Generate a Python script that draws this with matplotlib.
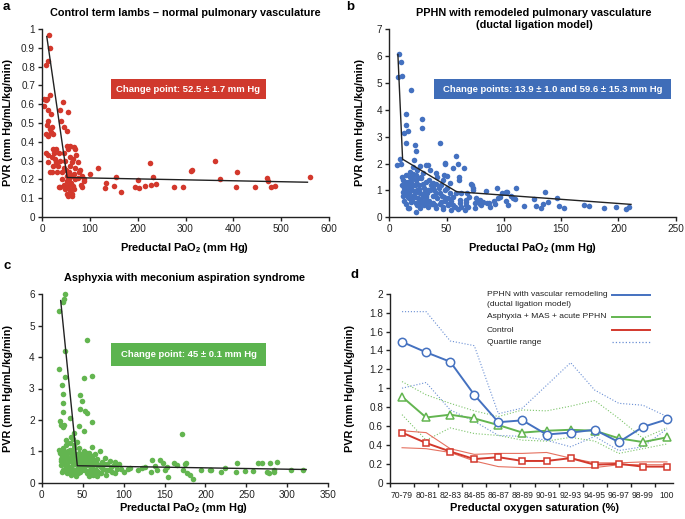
import matplotlib
matplotlib.use("Agg")
import matplotlib.pyplot as plt
from matplotlib.patches import Rectangle
import numpy as np

plt.rcParams['font.family'] = ['Liberation Sans', 'DejaVu Sans']
plt.rcParams['mathtext.fontset'] = 'custom'
plt.rcParams['mathtext.rm'] = 'Liberation Sans'
plt.rcParams['mathtext.bf'] = 'Liberation Sans:bold'

RED = '#d3382c'
BLUE = '#4471c0'
GREEN = '#63b550'

# ---------------- Panel a data ----------------
a_pts = [(15,0.97),(16,0.90),(12,0.83),(8,0.81),(5,0.63),(4,0.59),(8,0.62),(11,0.63),(17,0.65),(13,0.57),
         (19,0.55),(13,0.51),(10,0.49),(20,0.48),(8,0.44),(19,0.45),(13,0.43),(16,0.47),(22,0.44),(43,0.61),
         (37,0.57),(55,0.56),(40,0.51),(47,0.48),(52,0.46),
         (8,0.34),(22,0.36),(29,0.36),(52,0.38),(59,0.38),(66,0.37),(70,0.36),(55,0.36),(47,0.34),(36,0.34),
         (20,0.32),(27,0.31),(38,0.30),(48,0.30),(59,0.32),(62,0.29),(76,0.29),(13,0.29),(24,0.27),(34,0.27),
         (59,0.27),(69,0.26),(80,0.25),(20,0.24),(31,0.24),(41,0.24),(57,0.24),(66,0.23),(83,0.22),(52,0.22),
         (61,0.22),(76,0.21),(87,0.20),(100,0.23),(118,0.26),(41,0.20),(52,0.19),(61,0.18),(69,0.20),(45,0.17),
         (55,0.165),(64,0.165),(38,0.16),(48,0.15),(59,0.145),(52,0.125),(62,0.125),(55,0.11),(63,0.11),(84,0.16),
         (82,0.17),(16,0.24),(12,0.33),(25,0.34),(30,0.29),(45,0.26),(50,0.25),(65,0.31),(72,0.33),(57,0.20),
         (67,0.15),(35,0.16),(78,0.24),(88,0.19),
         (131,0.155),(133,0.18),(150,0.165),(154,0.215),(165,0.135),(195,0.16),(200,0.195),(203,0.155),(215,0.165),
         (226,0.285),(228,0.17),(232,0.215),(238,0.175),(277,0.16),(294,0.16),(312,0.245),(314,0.25),(362,0.30),
         (372,0.20),(405,0.16),(407,0.24),(445,0.16),(470,0.205),(473,0.19),(478,0.16),(488,0.165),(560,0.215)]
a_x = [p[0] for p in a_pts]
a_y = [p[1] for p in a_pts]
a_fit_x = [10, 52.5, 555]
a_fit_y = [0.96, 0.21, 0.185]

# ---------------- Panel b data ----------------
b_pts = [(8.7,6.07),(10.2,5.79),(7.3,5.2),(10.8,5.27),(18.6,4.73),(14.6,3.84),(14.6,3.43),(12.5,3.14),(16,3.19),
         (14.3,2.75),(28.2,3.66),(28.2,3.31),(22,2.68),(44,2.78),(23,2.45),(21.5,2.13),(7,1.93),(10.5,1.97),(9,2.15),
         (20.7,1.88),(31.7,1.96),(35.2,1.76),(48.3,2.03),(58,2.29),(60.2,1.97),(65,1.82),(56,1.82),(48.6,1.97),
         (61,1.51),(60.7,1.39),(48,1.57),(50.6,1.55),(40.7,1.66),(34,1.93),(27,1.91),(24,1.76),(41.6,1.49),
         (46.9,1.39),(71.6,1.23),(73,1.08),(23.6,1.57),(27.9,1.45),(29.4,1.64),(14.8,1.57),(17.8,1.70),(20,1.45),
         (16.3,1.33),(13.4,1.20),(38.1,1.26),(45.4,1.20),(52.7,1.26),(35.2,1.02),(41,0.89),(48.3,1.02),(55.6,0.77),
         (61.4,0.64),(66.6,0.58),(74.5,0.52),(78.9,0.64),(11.9,0.95),(14.8,0.83),(17.2,0.71),(19.2,0.58),(22.1,0.77),
         (25,0.95),(26.5,0.64),(29.4,0.52),(32.3,0.79),(33.7,0.40),(38.1,0.52),(41,0.33),(45.4,0.58),(46.9,0.40),
         (51.2,0.46),(54.1,0.27),(57,0.40),(60,0.30),(62.9,0.37),(65.8,0.27),(16.3,0.33),(23,0.21),
         (11,1.5),(12,1.4),(13,1.1),(12,0.8),(13,0.6),(15,1.0),(16,1.2),(17,0.9),(18,1.1),(19,1.3),(20,1.0),
         (21,0.8),(22,1.2),(23,1.4),(24,1.0),(25,0.7),(26,1.2),(27,0.9),(28,1.5),(29,0.8),(30,1.1),(31,0.6),
         (32,1.3),(33,0.9),(34,1.0),(35,0.6),(36,1.2),(37,0.5),(38,0.8),(39,1.0),(40,0.45),(42,0.7),(43,1.1),
         (44,0.5),(46,0.8),(47,0.3),(49,0.6),(50,1.1),(52,0.5),(53,0.9),(15,0.5),(17,0.35),(19,0.7),(21,1.6),
         (23,0.55),(25,1.45),(27,0.35),(29,1.25),(31,0.95),(33,0.55),(14,1.3),(16,0.75),(18,1.5),(20,0.6),
         (22,0.95),(24,0.45),(26,1.05),(28,0.65),(30,0.45),(32,0.75),(11,1.2),(13,0.9),(20,1.2),(24,1.25),
         (26,0.5),(35,1.4),(38,1.1),(41,1.25),(44,0.9),(48,0.75),(51,0.7),(54,0.6),(56,0.45),(58,0.9),(62,0.55),
         (63,0.9),(67,0.45),(68,0.9),(70,0.75),(75,0.35),(76,0.7),(80,0.45),(85,0.55),(88,0.4),(92,0.5),(95,0.7),
         (98,0.9),(103,0.95),(108,0.7),
         (72,1.20),(73,1.02),(84,0.99),(77.7,0.64),(93.7,1.10),(101.6,0.93),(106,0.79),(110,0.68),(111,1.08),
         (118,0.43),(126.6,0.68),(128,0.42),(132,0.35),(134.5,0.48),(136,0.93),(138.5,0.58),(146.7,0.70),
         (148.5,0.43),(152.5,0.36),(170,0.47),(174.6,0.43),(187.4,0.35),(197.6,0.40),(206.6,0.30),(209,0.37),
         (67,0.64),(69,0.40),(79,0.50),(82,0.58),(87,0.52),(91,0.61),(97,0.77),(102,0.59),(104,0.46)]
b_x = [p[0] for p in b_pts]
b_y = [p[1] for p in b_pts]
b_fit_x = [7.5, 11.6, 58.8, 211]
b_fit_y = [6.05, 2.16, 0.95, 0.48]

# ---------------- Panel c data ----------------
c_pts = [(28.5,6.0),(27.3,5.84),(25.6,5.77),(21.2,5.46),(28.5,4.2),(55,4.54),(21.6,3.62),(28.5,3.38),(51.7,3.33),
         (61,3.40),(24.4,3.11),(26.5,2.82),(25.6,2.53),(46.8,2.78),(48.8,2.6),(46.8,2.35),(52.9,2.28),(55.7,2.23),
         (26.5,2.26),(23,1.84),(25.6,1.78),(45.5,1.82),(52,1.66),(61,1.94),(34.6,2.05),(171,1.56),(22,1.97),
         (27,1.84),(39.5,1.57),(30,1.36),(36,1.45),
         (21,1.05),(22,0.95),(23,0.75),(24,0.55),(25,0.85),(26,1.1),(27,0.65),(28,0.45),(29,0.9),(30,1.2),
         (31,0.55),(32,0.8),(33,0.35),(34,1.0),(35,0.7),(36,0.5),(37,0.9),(38,0.3),(39,1.1),(40,0.6),(41,0.8),
         (42,0.4),(43,1.3),(44,0.75),(45,0.5),(46,0.95),(47,0.35),(48,0.65),(49,0.85),(50,0.45),(51,0.7),(52,1.0),
         (53,0.4),(54,0.6),(55,0.85),(56,0.35),(57,0.55),(58,0.95),(59,0.4),(60,0.7),(61,0.5),(62,1.15),(63,0.25),
         (64,0.6),(65,0.9),(66,0.4),(67,0.2),(68,0.75),(70,0.55),(71,1.0),(72,0.3),(74,0.65),(75,0.45),(77,0.8),
         (78,0.25),(80,0.6),(82,0.4),(84,0.7),(86,0.35),(88,0.55),(90,0.65),(92,0.45),
         (25,0.35),(27,1.0),(29,0.6),(31,0.9),(33,0.7),(35,1.05),(37,0.45),(39,0.75),(41,0.3),(43,0.55),(45,0.85),
         (47,0.7),(49,0.4),(51,0.9),(53,0.65),(55,0.3),(57,0.75),(59,0.6),(61,0.85),(63,0.45),(65,0.7),(67,0.55),
         (69,0.35),(73,0.5),(76,0.6),(79,0.4),(24,0.7),(26,0.4),(28,0.8),(30,0.5),(32,1.0),(34,0.45),(36,0.8),
         (38,0.6),(40,0.95),(42,0.7),(44,0.3),(46,0.6),(48,0.45),(50,0.75),(52,0.5),(54,0.85),(56,0.6),(58,0.3),
         (60,0.5),(62,0.8),(64,0.35),(66,0.65),(34,1.25),(38,1.4),(40,1.2),(45,1.1),(50,0.55),(55,0.95),(31,0.3),
         (36,0.25),(42,0.2),(58,0.2),(66,0.25),(70,0.3),(85,0.5),(95,0.6),(100,0.35),(106,0.43),(90,0.3),(97,0.45),
         (108,0.46),(118,0.40),(122,0.46),(125.8,0.51),(135,0.72),(134,0.35),(138,0.53),(144.5,0.72),(141,0.42),
         (148.5,0.62),(150.6,0.40),(152.6,0.51),(154.7,0.17),(161.6,0.64),(164.8,0.56),(175,0.59),(176,0.62),
         (173,0.40),(177,0.32),(181,0.24),(185,0.11),(195,0.40),(205.4,0.42),(207,0.40),(219,0.35),(224,0.48),
         (238,0.62),(237,0.35),(248.2,0.37),(258.4,0.37),(264.5,0.62),(268.6,0.64),(274.7,0.35),(278,0.32),
         (278.7,0.62),(283.6,0.42),(283.6,0.35),(286.9,0.67),(305,0.40),(319.5,0.42)]
c_x = [p[0] for p in c_pts]
c_y = [p[1] for p in c_pts]
c_fit_x = [23.2, 43.5, 323]
c_fit_y = [5.8, 0.54, 0.42]

# ---------------- Panel d data ----------------
d_cats = ['70-79', '80-81', '82-83', '84-85', '86-87', '88-89', '90-91', '92-93', '94-95', '96-97', '98-99', '100']
d_blue = [1.49, 1.38, 1.28, 0.93, 0.64, 0.66, 0.51, 0.53, 0.56, 0.43, 0.59, 0.67]
d_blue_hi = [1.81, 1.81, 1.50, 1.45, 0.73, 0.79, 1.03, 1.27, 0.98, 0.84, 0.82, 0.70]
d_blue_lo = [1.00, 1.06, 0.77, 0.65, 0.50, 0.49, 0.45, 0.38, 0.49, 0.34, 0.38, 0.57]
d_green = [0.91, 0.69, 0.72, 0.68, 0.61, 0.53, 0.55, 0.56, 0.55, 0.47, 0.43, 0.48]
d_green_hi = [1.07, 0.93, 0.84, 0.76, 0.70, 0.77, 0.76, 0.81, 0.87, 0.68, 0.47, 0.58]
d_green_lo = [0.72, 0.45, 0.58, 0.52, 0.50, 0.45, 0.44, 0.48, 0.44, 0.31, 0.36, 0.41]
d_red = [0.53, 0.42, 0.33, 0.25, 0.27, 0.23, 0.23, 0.26, 0.19, 0.20, 0.17, 0.17]
d_red_hi = [0.55, 0.53, 0.36, 0.30, 0.31, 0.31, 0.32, 0.26, 0.21, 0.21, 0.22, 0.22]
d_red_lo = [0.37, 0.36, 0.32, 0.23, 0.17, 0.16, 0.16, 0.16, 0.16, 0.19, 0.19, 0.19]

W, H = 685, 519
fig = plt.figure(figsize=(W/100, H/100), dpi=100)

def ax_px(x0, x1, ytop, ybot):
    return fig.add_axes([x0/W, 1-ybot/H, (x1-x0)/W, (ybot-ytop)/H])

def style(ax):
    for s in ['top', 'right']:
        ax.spines[s].set_visible(False)
    for s in ['left', 'bottom']:
        ax.spines[s].set_linewidth(1.0)
        ax.spines[s].set_color('#222222')
    ax.tick_params(direction='out', length=3.2, width=1.0, labelsize=7.2, colors='#222222', pad=1.8)

def ftext(x, y, s, **kw):
    fig.text(x/W, 1-y/H, s, **kw)

def box(x0, x1, ytop, ybot, color, s):
    fig.patches.append(Rectangle((x0/W, 1-ybot/H), (x1-x0)/W, (ybot-ytop)/H,
                                 transform=fig.transFigure, facecolor=color, edgecolor='none'))
    ftext((x0+x1)/2, (ytop+ybot)/2, s, ha='center', va='center', color='white',
          fontsize=6.8, fontweight='bold')

XL = 'Preductal PaO$_\\mathbf{2}$ (mm Hg)'
YL = 'PVR (mm Hg/mL/kg/min)'
SZ = 16

# Panel a
ax = ax_px(42, 329, 29, 217)
style(ax)
ax.scatter(a_x, a_y, s=SZ, color=RED, linewidths=0, zorder=2, clip_on=False)
ax.plot(a_fit_x, a_fit_y, color='#222222', lw=1.0, zorder=3)
ax.set_xlim(0, 600); ax.set_ylim(0, 1)
ax.set_xticks(range(0, 601, 100))
yt = np.round(np.arange(0, 1.01, 0.1), 1)
ax.set_yticks(yt)
ax.set_yticklabels(['0'] + [f'{v:g}' for v in yt[1:]])
ftext(3, 7, 'a', fontsize=9.5, fontweight='bold', va='center')
ftext(185, 13, 'Control term lambs \u2013 normal pulmonary vasculature', ha='center', va='center',
      fontsize=7.8, fontweight='bold')
ftext(8, 123, YL, rotation=90, ha='center', va='center', fontsize=7.8, fontweight='bold')
ftext(185, 250.8, XL, ha='center', va='baseline', fontsize=7.9, fontweight='bold')
box(111, 266, 78.7, 99.3, '#d0392d', 'Change point: 52.5 \u00b1 1.7 mm Hg')

# Panel b
ax = ax_px(389.3, 675.7, 29, 217.3)
style(ax)
ax.scatter(b_x, b_y, s=SZ, color=BLUE, linewidths=0, zorder=2, clip_on=False)
ax.plot(b_fit_x, b_fit_y, color='#222222', lw=1.0, zorder=3)
ax.set_xlim(0, 250); ax.set_ylim(0, 7)
ax.set_xticks(range(0, 251, 50)); ax.set_yticks(range(0, 8))
ftext(346, 7, 'b', fontsize=9.5, fontweight='bold', va='center')
ftext(534, 12.7, 'PPHN with remodeled pulmonary vasculature', ha='center', va='center',
      fontsize=7.8, fontweight='bold')
ftext(534, 25.5, '(ductal ligation model)', ha='center', va='center', fontsize=7.8, fontweight='bold')
ftext(360, 123, YL, rotation=90, ha='center', va='center', fontsize=7.8, fontweight='bold')
ftext(533, 250.8, XL, ha='center', va='baseline', fontsize=7.9, fontweight='bold')
box(434.3, 671, 78.7, 99.3, '#3f6db8', 'Change points: 13.9 \u00b1 1.0 and 59.6 \u00b1 15.3 mm Hg')

# Panel c
ax = ax_px(41.7, 328.3, 294.3, 482.7)
style(ax)
ax.scatter(c_x, c_y, s=SZ, color=GREEN, linewidths=0, zorder=2, clip_on=False)
ax.plot(c_fit_x, c_fit_y, color='#222222', lw=1.0, zorder=3)
ax.set_xlim(0, 350); ax.set_ylim(0, 6)
ax.set_xticks(range(0, 351, 50)); ax.set_yticks(range(0, 7))
ftext(3, 266, 'c', fontsize=9.5, fontweight='bold', va='center')
ftext(184, 278, 'Asphyxia with meconium aspiration syndrome', ha='center', va='center',
      fontsize=7.8, fontweight='bold')
ftext(8, 388, YL, rotation=90, ha='center', va='center', fontsize=7.8, fontweight='bold')
ftext(184, 511, XL, ha='center', va='baseline', fontsize=7.9, fontweight='bold')
box(111, 266, 343.3, 365.7, '#5cb44f', 'Change point: 45 \u00b1 0.1 mm Hg')

# Panel d
ax = ax_px(390, 673, 293.7, 482.7)
style(ax)
xs = np.arange(len(d_cats))
ax.plot(xs, d_blue_hi, color='#6a8fd4', lw=0.8, ls=':', zorder=1)
ax.plot(xs, d_blue_lo, color='#6a8fd4', lw=0.8, ls=':', zorder=1)
ax.plot(xs, d_green_hi, color='#7cc46a', lw=0.8, ls=':', zorder=1)
ax.plot(xs, d_green_lo, color='#7cc46a', lw=0.8, ls=':', zorder=1)
ax.plot(xs, d_red_hi, color='#e5705f', lw=0.8, zorder=1)
ax.plot(xs, d_red_lo, color='#e5705f', lw=0.8, zorder=1)
ax.plot(xs, d_red, color=RED, lw=1.4, marker='s', ms=5, mfc='white', mec=RED, mew=1.1, zorder=3)
ax.plot(xs, d_green, color=GREEN, lw=1.4, marker='^', ms=6, mfc='white', mec=GREEN, mew=1.1, zorder=4)
ax.plot(xs, d_blue, color=BLUE, lw=1.4, marker='o', ms=6, mfc='white', mec=BLUE, mew=1.1, zorder=5)
ax.set_xlim(-0.45, 11.25); ax.set_ylim(0, 2)
ax.set_xticks(xs)
ax.set_xticklabels(d_cats, fontsize=6.2)
ax.tick_params(axis='x', length=0, pad=6)
ax.set_xticks(np.arange(-0.5, 11.0, 1.0), minor=True)
ax.tick_params(axis='x', which='minor', length=3.2, width=1.0, direction='out', colors='#222222')
yt = np.round(np.arange(0, 2.01, 0.2), 1)
ax.set_yticks(yt)
ax.set_yticklabels(['0'] + [f'{v:g}' for v in yt[1:]])
ftext(350, 275, 'd', fontsize=9.5, fontweight='bold', va='center')
ftext(350, 388, YL, rotation=90, ha='center', va='center', fontsize=7.8, fontweight='bold')
ftext(534, 511, 'Preductal oxygen saturation (%)', ha='center', va='baseline', fontsize=7.9, fontweight='bold')
# legend
lx0, lx1, tx = 611.7, 650, 486.7
LF = 6.1
ftext(tx, 295, 'PPHN with vascular remodeling', va='center', fontsize=LF, color='#222222')
ftext(tx, 304, '(ductal ligation model)', va='center', fontsize=LF, color='#222222')
ftext(tx, 316.7, 'Asphyxia + MAS + acute PPHN', va='center', fontsize=LF, color='#222222')
ftext(tx, 330, 'Control', va='center', fontsize=LF, color='#222222')
ftext(tx, 342.3, 'Quartile range', va='center', fontsize=LF, color='#222222')
for yy, col, ls, lw in [(294.5, BLUE, '-', 1.4), (316.7, GREEN, '-', 1.4), (330, RED, '-', 1.4),
                        (342.3, '#6a8fd4', ':', 0.9)]:
    fig.add_artist(plt.Line2D([lx0/W, lx1/W], [1-yy/H, 1-yy/H], transform=fig.transFigure,
                              color=col, ls=ls, lw=lw))

fig.savefig('out.png', dpi=100)
